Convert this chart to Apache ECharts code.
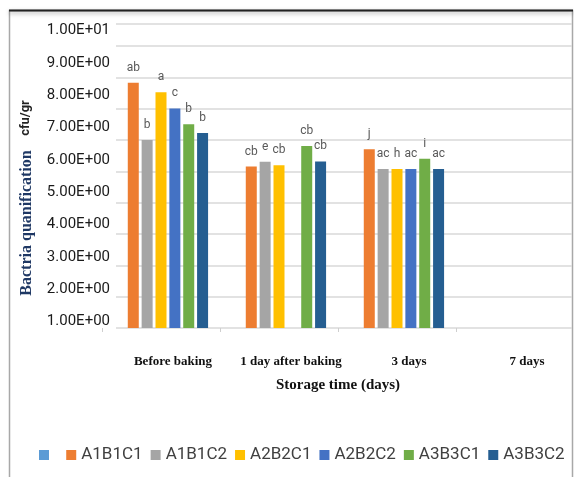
<!DOCTYPE html>
<html>
<head>
<meta charset="utf-8">
<script src="https://cdn.jsdelivr.net/npm/echarts@6/dist/echarts.min.js"></script>
<style>
  html, body { margin: 0; padding: 0; background: #fff; }
  #chart { width: 574px; height: 477px; }
</style>
</head>
<body>
<div id="chart"></div>
<script>
// Categories on the x axis
const storageTimes = ["Before baking", "1 day after baking", "3 days", "7 days"];

// Bar values (cfu/gr); the first series is the empty one in the legend
const blankSeries = [null, null, null, null];
const a1b1c1 = [8.38, 5.79, 6.33, null];
const a1b1c2 = [6.61, 5.94, 5.72, null];
const a2b2c1 = [8.09, 5.83, 5.72, null];
const a2b2c2 = [7.59, null, 5.72, null];
const a3b3c1 = [7.10, 6.43, 6.03, null];
const a3b3c2 = [6.83, 5.95, 5.72, null];

// Significance letters above the bars
const a1b1c1Letters = ["ab", "cb", "j", ""];
const a1b1c2Letters = ["b", "e", "ac", ""];
const a2b2c1Letters = ["a", "cb", "h", ""];
const a2b2c2Letters = ["c", "", "ac", ""];
const a3b3c1Letters = ["b", "cb", "i", ""];
const a3b3c2Letters = ["b", "cb", "ac", ""];

// Y axis tick labels
const yTickValues = [1, 2, 3, 4, 5, 6, 7, 8, 9, 10];
const yTickLabels = ["1.00E+00", "2.00E+00", "3.00E+00", "4.00E+00", "5.00E+00",
  "6.00E+00", "7.00E+00", "8.00E+00", "9.00E+00", "1.00E+01"];

const chart = echarts.init(document.getElementById("chart"));

function barSeries(name, data, letters, color) {
  return {
    name: name,
    type: "bar",
    xAxisIndex: 0,
    yAxisIndex: 0,
    data: data,
    barWidth: 11,
    barGap: "26%",
    itemStyle: { color: color },
    label: {
      show: true,
      position: "top",
      distance: 9,
      color: "#595959",
      fontFamily: "Roboto",
      fontSize: 12,
      formatter: function (p) {
        return letters[p.dataIndex];
      },
    },
  };
}

chart.setOption({
  animation: false,
  backgroundColor: "#fff",
  grid: [
    // bars
    { left: 102, right: 0, top: 24, bottom: 149 },
    // only used for the gridlines
    { left: 116, right: 2, top: 24, bottom: 149 },
  ],
  xAxis: [
    {
      type: "category",
      gridIndex: 0,
      data: storageTimes,
      axisLine: { show: false },
      axisTick: { show: true, length: 4, lineStyle: { color: "#cfcfcf" } },
      axisLabel: {
        interval: 0,
        margin: 27,
        padding: [0, 0, 0, 24],
        fontFamily: "Liberation Serif",
        fontWeight: "bold",
        fontSize: 13,
        color: "#111",
      },
      name: "Storage time (days)",
      nameLocation: "middle",
      nameGap: 50,
      nameTextStyle: {
        fontFamily: "Liberation Serif",
        fontWeight: "bold",
        fontSize: 15,
        color: "#111",
      },
    },
    { type: "value", gridIndex: 1, min: 0, max: 1, show: false },
  ],
  yAxis: [
    {
      type: "value",
      gridIndex: 0,
      min: 0.8,
      max: 10.2,
      axisLine: { show: false },
      axisTick: { show: false },
      splitLine: { show: false },
      axisLabel: {
        customValues: yTickValues,
        margin: -8,
        fontFamily: "Roboto",
        fontSize: 15,
        color: "#1a1a1a",
        formatter: function (v) {
          const i = yTickValues.indexOf(Math.round(v));
          return i >= 0 ? yTickLabels[i] : "";
        },
      },
    },
    {
      type: "value",
      gridIndex: 1,
      min: 1,
      max: 10.7,
      interval: 1,
      axisLine: { show: false },
      axisTick: { show: false },
      axisLabel: { show: false },
      splitLine: { show: true, lineStyle: { color: "#d9d9d9", width: 1.5 } },
    },
  ],
  legend: {
    left: 39,
    top: 445,
    padding: 0,
    itemGap: 8,
    itemWidth: 10,
    itemHeight: 10,
    icon: "rect",
    textStyle: { fontFamily: "Roboto", fontSize: 17, color: "#404040", lineHeight: 20 },
    data: [" ", "A1B1C1", "A1B1C2", "A2B2C1", "A2B2C2", "A3B3C1", "A3B3C2"],
  },
  series: [
    barSeries(" ", blankSeries, ["", "", "", ""], "#5B9BD5"),
    barSeries("A1B1C1", a1b1c1, a1b1c1Letters, "#ED7D31"),
    barSeries("A1B1C2", a1b1c2, a1b1c2Letters, "#A5A5A5"),
    barSeries("A2B2C1", a2b2c1, a2b2c1Letters, "#FFC000"),
    barSeries("A2B2C2", a2b2c2, a2b2c2Letters, "#4472C4"),
    barSeries("A3B3C1", a3b3c1, a3b3c1Letters, "#70AD47"),
    barSeries("A3B3C2", a3b3c2, a3b3c2Letters, "#255E91"),
  ],
  graphic: [
    // picture frame
    {
      type: "rect",
      shape: { x: 9.5, y: 10.5, width: 563, height: 480 },
      style: { fill: "none", stroke: "#a8a8a8", lineWidth: 1.5 },
      silent: true,
    },
    {
      type: "line",
      shape: { x1: 9, y1: 10.5, x2: 573, y2: 10.5 },
      style: { stroke: "#222", lineWidth: 2, shadowColor: "rgba(0,0,0,0.35)", shadowBlur: 4, shadowOffsetY: 2 },
      silent: true,
    },
    // y axis title, written bottom to top
    {
      type: "text",
      x: 27,
      y: 223,
      rotation: Math.PI / 2,
      style: {
        text: "Bactria quanification",
        font: 'bold 16px "Liberation Serif"',
        fill: "#1F3864",
        align: "center",
        verticalAlign: "middle",
      },
    },
    {
      type: "text",
      x: 26,
      y: 118,
      rotation: Math.PI / 2,
      style: {
        text: "cfu/gr",
        font: 'bold 13px Roboto',
        fill: "#222",
        align: "center",
        verticalAlign: "middle",
      },
    },
  ],
});
</script>
</body>
</html>
